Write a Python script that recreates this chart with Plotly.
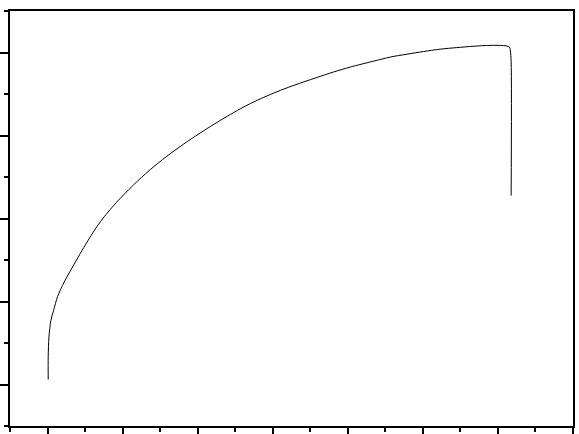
import plotly.graph_objects as go

strain = [0.009, 0.009, 0.019, 0.045, 0.081, 0.134, 0.222, 0.355, 0.46, 0.56,
          0.66, 0.754, 0.86, 0.976, 1.198, 1.419, 1.641, 1.863, 2.084, 2.262,
          2.439, 2.616, 2.794, 2.971, 3.148, 3.414, 3.592, 3.809, 4.035, 4.340,
          4.566, 4.790, 5.005, 5.231, 5.453, 5.670, 5.896, 6.073, 6.153, 6.166,
          6.176, 6.176]
stress = [0.06, 0.333, 0.573, 0.774, 0.894, 1.06, 1.235, 1.45, 1.615, 1.765,
          1.905, 2.02, 2.135, 2.25, 2.45, 2.628, 2.785, 2.928, 3.06, 3.16,
          3.255, 3.345, 3.425, 3.495, 3.56, 3.646, 3.70, 3.765, 3.825, 3.895,
          3.945, 3.98, 4.011, 4.040, 4.059, 4.075, 4.086, 4.083, 4.067, 4.019,
          3.887, 2.276]

x_range = [-0.5, 7]
y_range = [-0.5, 4.5]

fig = go.Figure(go.Scatter(x=strain, y=stress, mode="lines",
                           line=dict(color="black", width=1, shape="spline", smoothing=0.8),
                           hoverinfo="skip"))

axis_common = dict(showline=True, linecolor="black", linewidth=2, mirror=True,
                   showgrid=False, zeroline=False, showticklabels=False,
                   ticks="outside", tickcolor="black", tickwidth=2, automargin=False)

fig.update_xaxes(range=x_range, tick0=0, dtick=1, ticklen=7,
                 minor=dict(ticks="outside", ticklen=4, tickcolor="black",
                            tickwidth=2, dtick=0.5, tick0=0, showgrid=False),
                 **axis_common)
fig.update_yaxes(range=y_range, tick0=0, dtick=1, ticklen=8,
                 minor=dict(ticks="outside", ticklen=4, tickcolor="black",
                            tickwidth=2, dtick=0.5, tick0=0, showgrid=False),
                 **axis_common)

fig.update_layout(width=579, height=434, margin=dict(l=10, r=6, t=11, b=8),
                  paper_bgcolor="white", plot_bgcolor="white", showlegend=False)

fig.write_html("out.html", config={"displayModeBar": False},
               post_script="document.body.style.margin='0';document.body.style.overflow='hidden';")
